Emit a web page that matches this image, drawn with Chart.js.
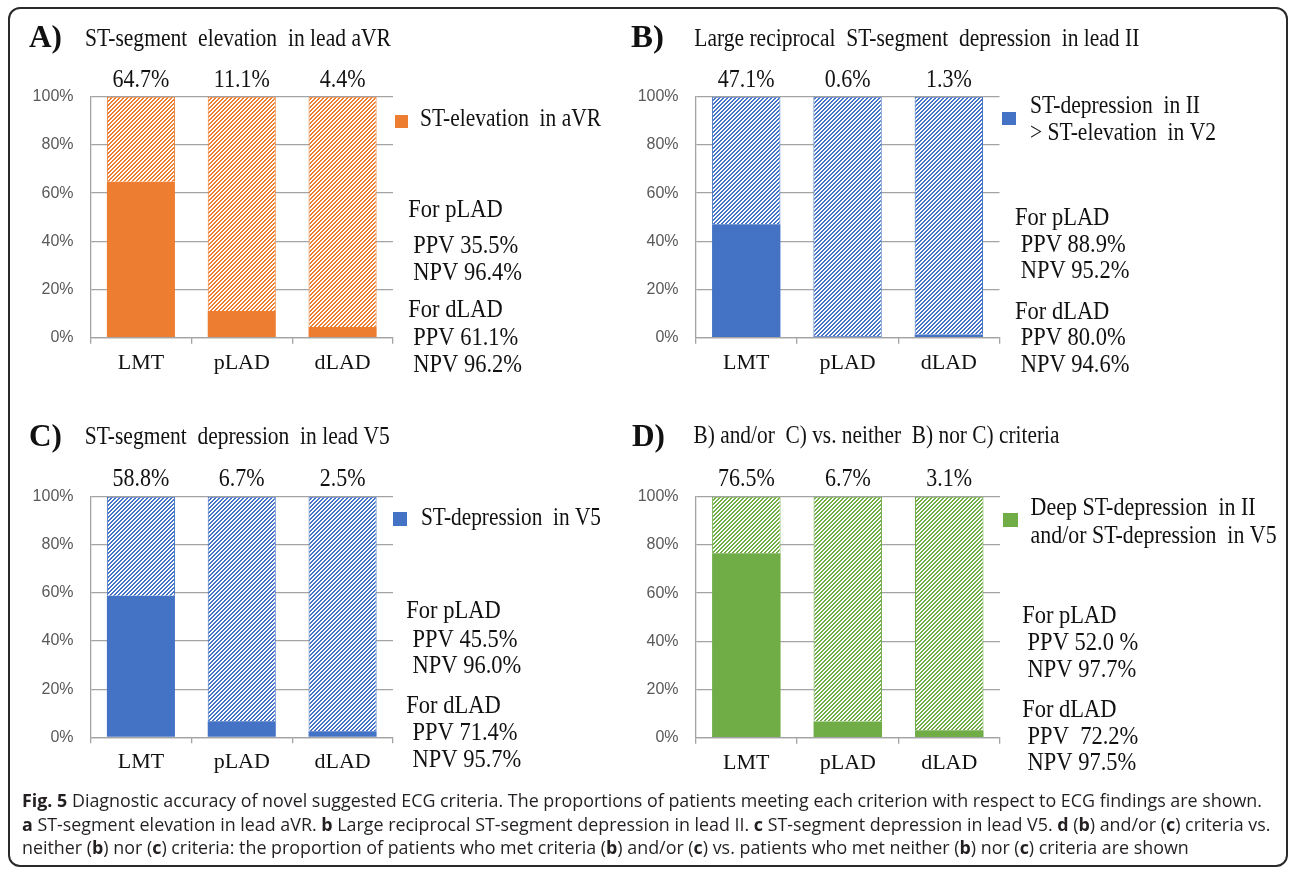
<!DOCTYPE html>
<html>
<head>
<meta charset="utf-8">
<script src="https://cdn.jsdelivr.net/npm/chart.js@4.4.0/dist/chart.umd.min.js"></script>
<style>
  html, body { margin: 0; padding: 0; background: #fff; }
  #page { position: relative; width: 1295px; height: 871px; overflow: hidden; background: #fff; }
  #page canvas { position: absolute; left: 0; top: 0; }
  #frame { position: absolute; left: 8px; top: 7px; width: 1280px; height: 860px; box-sizing: border-box;
           border: 2px solid #2a2a2a; border-radius: 12px; }
  .cap { position: absolute; left: 22px; white-space: pre; font-family: "Open Sans", sans-serif;
         font-size: 18.5px; line-height: 22px; color: #231f20; transform-origin: 0 50%; }
  .cap b { font-weight: 700; }
</style>
</head>
<body>
<div id="page">
  <div id="frame"></div>
  <canvas id="chartA" width="1295" height="871"></canvas>
  <canvas id="chartB" width="1295" height="871"></canvas>
  <canvas id="chartC" width="1295" height="871"></canvas>
  <canvas id="chartD" width="1295" height="871"></canvas>
  <div class="cap" id="cap1" style="top:789px"><b>Fig. 5</b> Diagnostic accuracy of novel suggested ECG criteria. The proportions of patients meeting each criterion with respect to ECG findings are shown.</div>
  <div class="cap" id="cap2" style="top:812.5px"><b>a</b> ST-segment elevation in lead aVR. <b>b</b> Large reciprocal ST-segment depression in lead II. <b>c</b> ST-segment depression in lead V5. <b>d</b> (<b>b</b>) and/or (<b>c</b>) criteria vs.</div>
  <div class="cap" id="cap3" style="top:836px">neither (<b>b</b>) nor (<b>c</b>) criteria: the proportion of patients who met criteria (<b>b</b>) and/or (<b>c</b>) vs. patients who met neither (<b>b</b>) nor (<b>c</b>) criteria are shown</div>
</div>
<script>
// Culprit-lesion groups on the category axis
const categories = ['LMT', 'pLAD', 'dLAD'];
// Share of patients meeting each ECG criterion (%)
const aVRElevation = [64.7, 11.1, 4.4];
const leadIIDepression = [47.1, 0.6, 1.3];
const v5Depression = [58.8, 6.7, 2.5];
const combinedCriteria = [76.5, 6.7, 3.1];
// Value-axis ticks (%)
const yTicks = [0, 20, 40, 60, 80, 100];
// Predictive values printed beside each panel
const notesA = ['For pLAD', 'PPV 35.5%', 'NPV 96.4%', 'For dLAD', 'PPV 61.1%', 'NPV 96.2%'];
const notesB = ['For pLAD', 'PPV 88.9%', 'NPV 95.2%', 'For dLAD', 'PPV 80.0%', 'NPV 94.6%'];
const notesC = ['For pLAD', 'PPV 45.5%', 'NPV 96.0%', 'For dLAD', 'PPV 71.4%', 'NPV 95.7%'];
const notesD = ['For pLAD', 'PPV 52.0 %', 'NPV 97.7%', 'For dLAD', 'PPV  72.2%', 'NPV 97.5%'];

const ORANGE = '#ED7D31', BLUE = '#4472C4', GREEN = '#70AD47';
const GRID = '#a3a3a3';
const SERIF = '"Liberation Serif", "Times New Roman", serif';
const W = 1295, H = 871;

// Diagonal "////" hatch used for the remainder of each 100% bar
function hatch(color) {
  const c = document.createElement('canvas');
  c.width = 4; c.height = 4;
  const g = c.getContext('2d');
  g.fillStyle = '#fff';
  g.fillRect(0, 0, 4, 4);
  g.fillStyle = color;
  for (let y = 0; y < 4; y++)
    for (let x = 0; x < 4; x++)
      if ((x + y) % 4 < 2) g.fillRect(x, y, 1, 1);
  return g.createPattern(c, 'repeat');
}

// Draw a string; optional horizontal fit to a width and vertical stretch
function txt(ctx, s, x, y, font, o = {}) {
  ctx.save();
  ctx.font = font;
  ctx.fillStyle = o.color || '#111';
  ctx.textBaseline = 'alphabetic';
  ctx.textAlign = o.align || 'left';
  const w = ctx.measureText(s).width;
  const sx = o.width ? o.width / w : 1;
  ctx.translate(x, y);
  ctx.scale(sx, o.sy || 1);
  ctx.fillText(s, 0, 0);
  ctx.restore();
}

function textPlugin(d) {
  return {
    id: 'panelText',
    afterDatasetsDraw(chart) {
      const ctx = chart.ctx;
      const area = chart.chartArea;
      txt(ctx, d.tag, d.tagAt[0], d.tagAt[1], 'bold 30px ' + SERIF, { width: 33, sy: 1.08 });
      txt(ctx, d.title, d.titleAt[0], d.titleAt[1], '22px ' + SERIF, { width: d.titleAt[2], sy: 1.1 });
      // percentage above each bar, from the plotted values
      const xs = chart.scales.x;
      chart.data.datasets[0].data.forEach((v, i) => {
        txt(ctx, v.toFixed(1) + '%', xs.getPixelForValue(i), area.top - d.valueGap, '22px ' + SERIF,
            { align: 'center', sy: 1.1 });
      });
      // legend swatch + label
      ctx.fillStyle = chart.data.datasets[0].backgroundColor;
      ctx.fillRect(d.swatch[0], d.swatch[1], d.swatch[2], d.swatch[3]);
      d.legend.forEach(l => txt(ctx, l[0], l[1], l[2], '22px ' + SERIF, { width: l[3], sy: 1.1 }));
      // predictive values
      d.notes.forEach((s, k) => txt(ctx, s, d.noteX[k % 3 === 0 ? 0 : 1], d.noteY[k], '22.5px ' + SERIF, { sy: 1.1 }));
    }
  };
}

function panelChart(id, values, color, box, deco) {
  return new Chart(document.getElementById(id), {
    type: 'bar',
    data: {
      labels: categories,
      datasets: [
        { label: deco.legend.map(l => l[0]).join(' '), data: values, backgroundColor: color,
          borderWidth: 0, stack: 's' },
        { label: 'other', data: values.map(v => 100 - v), backgroundColor: hatch(color),
          borderColor: color, borderWidth: 1, stack: 's' }
      ]
    },
    options: {
      responsive: false,
      animation: false,
      events: [],
      layout: { padding: { left: 0, top: box.top, right: W - box.right, bottom: H - box.bottom - 50 } },
      datasets: { bar: { categoryPercentage: 1, barPercentage: 0.675 } },
      scales: {
        x: {
          stacked: true,
          offset: true,
          grid: { display: true, offset: true, drawOnChartArea: false, drawTicks: true, tickLength: 6,
                  color: GRID, lineWidth: 1.3 },
          border: { display: true, color: GRID, width: 1.3 },
          ticks: { font: { family: SERIF, size: 22 }, color: '#111', padding: 6 },
          afterFit(s) { s.height = 50; }
        },
        y: {
          stacked: true,
          min: 0, max: 100,
          afterBuildTicks(s) { s.ticks = yTicks.map(v => ({ value: v })); },
          ticks: { callback: v => v + '%', font: { family: '"Liberation Sans", Arial, sans-serif', size: 16 },
                   color: '#595959', padding: 17 },
          grid: { color: GRID, lineWidth: 1.3, drawTicks: false },
          border: { display: true, color: GRID, width: 1.3 },
          afterFit(s) { s.width = box.left; }
        }
      },
      plugins: { legend: { display: false }, tooltip: { enabled: false } }
    },
    plugins: [textPlugin(deco)]
  });
}

panelChart('chartA', aVRElevation, ORANGE, { left: 90.5, right: 393, top: 96.7, bottom: 337.7 }, {
  tag: 'A)', tagAt: [29, 47],
  title: 'ST-segment  elevation  in lead aVR', titleAt: [85, 45.5, 306],
  valueGap: 10,
  swatch: [395, 115, 13, 13],
  legend: [['ST-elevation  in aVR', 420, 126, 181]],
  notes: notesA, noteX: [408.3, 413.3], noteY: [216.7, 253.3, 280, 316.7, 345, 371.7]
});

panelChart('chartB', leadIIDepression, BLUE, { left: 695.6, right: 999.5, top: 96.7, bottom: 337.7 }, {
  tag: 'B)', tagAt: [631, 47],
  title: 'Large reciprocal  ST-segment  depression  in lead II', titleAt: [694.3, 45.5, 445],
  valueGap: 10,
  swatch: [1002, 112, 14, 13],
  legend: [['ST-depression  in II', 1030, 113.3, 170], ['> ST-elevation  in V2', 1030, 140, 186]],
  notes: notesB, noteX: [1015, 1020.7], noteY: [225, 252.3, 278.3, 319.3, 345, 371.7]
});

panelChart('chartC', v5Depression, BLUE, { left: 90.5, right: 393, top: 496.7, bottom: 737.3 }, {
  tag: 'C)', tagAt: [29, 446],
  title: 'ST-segment  depression  in lead V5', titleAt: [84.7, 444, 305],
  valueGap: 11,
  swatch: [393, 512, 14, 14],
  legend: [['ST-depression  in V5', 421, 525, 180]],
  notes: notesC, noteX: [406.3, 412.5], noteY: [618.3, 646.7, 673.3, 713.3, 740, 766.7]
});

panelChart('chartD', combinedCriteria, GREEN, { left: 695.6, right: 1000, top: 496.7, bottom: 737.7 }, {
  tag: 'D)', tagAt: [632, 446],
  title: 'B) and/or  C) vs. neither  B) nor C) criteria', titleAt: [693.5, 443.3, 366],
  valueGap: 11,
  swatch: [1003, 513, 15, 14],
  legend: [['Deep ST-depression  in II', 1030.6, 515, 225], ['and/or ST-depression  in V5', 1030.6, 542.7, 246]],
  notes: notesD, noteX: [1022.2, 1027.6], noteY: [622.7, 650, 676.7, 717.3, 744, 770]
});

// Caption: condensed so the first line spans the frame; same squeeze for every line
(function () {
  const k = 1240 / document.getElementById('cap1').getBoundingClientRect().width;
  ['cap1', 'cap2', 'cap3'].forEach(id => {
    document.getElementById(id).style.transform = 'scaleX(' + k.toFixed(4) + ')';
  });
})();
</script>
</body>
</html>
